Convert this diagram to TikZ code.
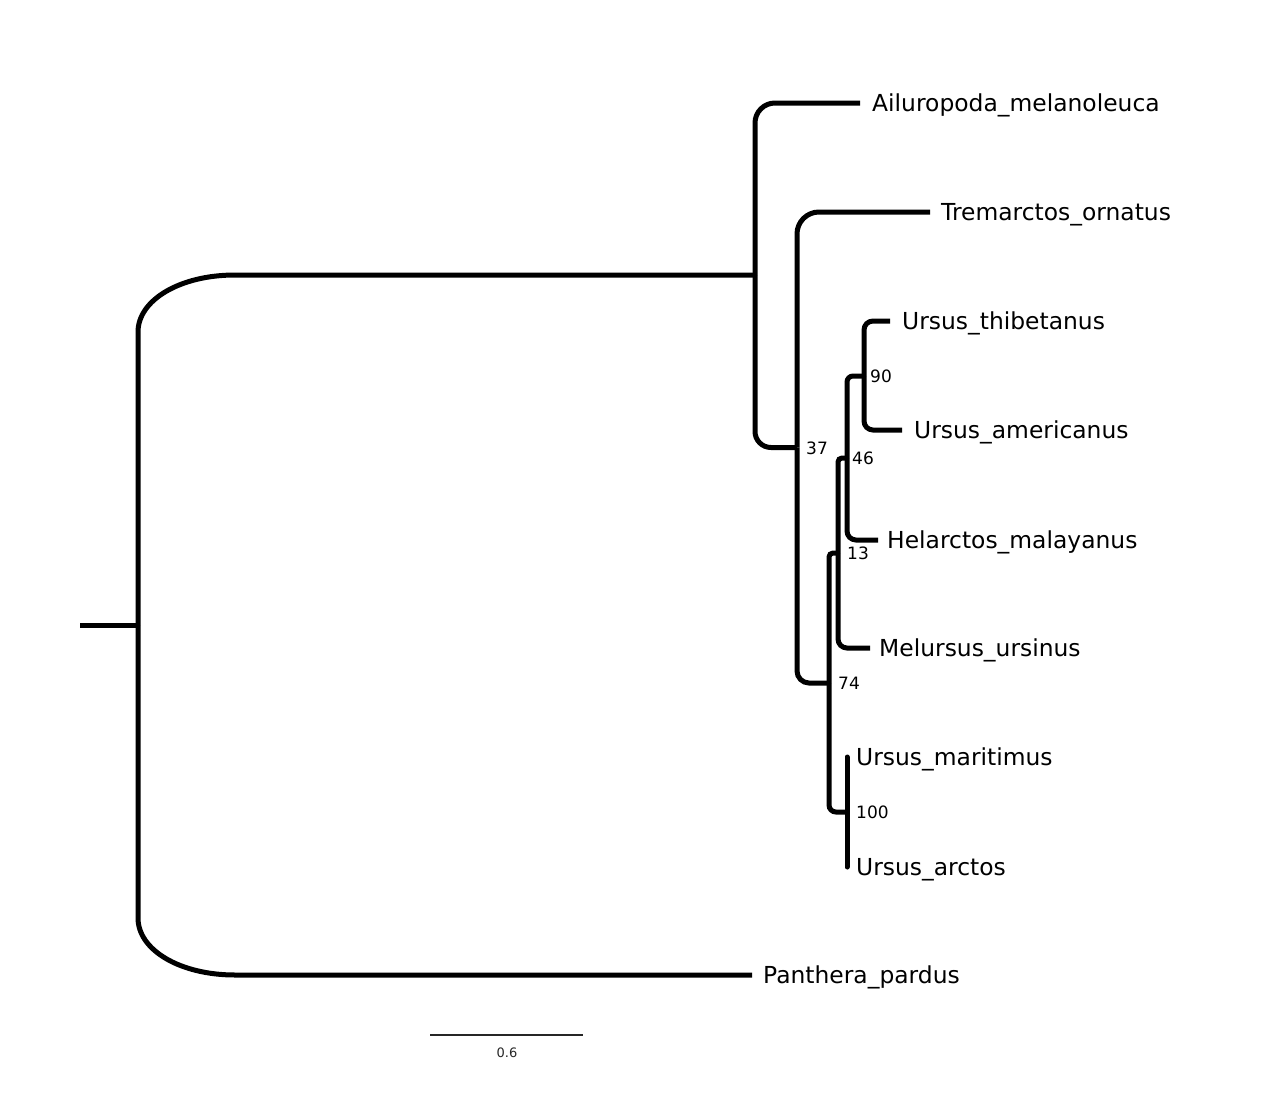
\documentclass[tikz,border=0pt]{standalone}
\usepackage{fontspec}
\setmainfont{DejaVu Sans}
\tikzset{
  branch/.style={line width=5pt, black},
  tiplabel/.style={anchor=base west, inner sep=0pt, font=\fontsize{23.4}{28}\selectfont},
  supportlabel/.style={anchor=base west, inner sep=0pt, font=\fontsize{17}{20}\selectfont},
  scalelabel/.style={anchor=base, inner sep=0pt, font=\fontsize{13}{16}\selectfont, black!85},
}
\begin{document}
\begin{tikzpicture}[x=1pt,y=-1pt]
\useasboundingbox (0,0) rectangle (1264,1100);
% internal nodes
\coordinate (stem) at (80,625);
\coordinate (root) at (138,625);
\coordinate (nA) at (755,275);
\coordinate (n37) at (797,447.5);
\coordinate (n74) at (829,683);
\coordinate (n13) at (838,553);
\coordinate (n46) at (847,458);
\coordinate (n90) at (864,376);
\coordinate (n100) at (847,812);
% leaf ends
\coordinate (Lail) at (860,103);
\coordinate (Ltre) at (930,212);
\coordinate (Lthi) at (890,321);
\coordinate (Lame) at (902,430);
\coordinate (Lhel) at (878,540);
\coordinate (Lmel) at (870,648);
\coordinate (Lmar) at (847,757);
\coordinate (Larc) at (847,867);
\coordinate (Lpan) at (752,975);
% root
\draw[branch] (stem) -- (root);
\draw[branch] (root) -- (138,332) .. controls (138,300) and (180,275) .. (235,275) -- (nA);
\draw[branch] (root) -- (138,918) .. controls (138,950) and (180,975) .. (235,975) -- (Lpan);
% clade A
\draw[branch, rounded corners=20pt] (nA) |- (Lail);
\draw[branch, rounded corners=16pt] (nA) |- (n37);
% node 37
\draw[branch, rounded corners=22pt] (n37) |- (Ltre);
\draw[branch, rounded corners=12pt] (n37) |- (n74);
% node 74
\draw[branch, rounded corners=4pt] (n74) |- (n13);
\draw[branch, rounded corners=7pt] (n74) |- (n100);
% node 13
\draw[branch, rounded corners=4pt] (n13) |- (n46);
\draw[branch, rounded corners=9pt] (n13) |- (Lmel);
% node 46
\draw[branch, rounded corners=6pt] (n46) |- (n90);
\draw[branch, rounded corners=9pt] (n46) |- (Lhel);
% node 90
\draw[branch, rounded corners=9pt] (n90) |- (Lthi);
\draw[branch, rounded corners=9pt] (n90) |- (Lame);
% node 100
\draw[branch, line cap=round] (n100) -- (Lmar);
\draw[branch, line cap=round] (n100) -- (Larc);
% tip labels
\node[tiplabel] (tail) at (872,111.5) {Ailuropoda\_melanoleuca};
\node[tiplabel] (ttre) at (941,220.5) {Tremarctos\_ornatus};
\node[tiplabel] (tthi) at (902,329.5) {Ursus\_thibetanus};
\node[tiplabel] (tame) at (914,438.5) {Ursus\_americanus};
\node[tiplabel] (thel) at (887,548.5) {Helarctos\_malayanus};
\node[tiplabel] (tmel) at (879,656.5) {Melursus\_ursinus};
\node[tiplabel] (tmar) at (856,765.5) {Ursus\_maritimus};
\node[tiplabel] (tarc) at (856,875.5) {Ursus\_arctos};
\node[tiplabel] (tpan) at (763,983.5) {Panthera\_pardus};
% support labels
\node[supportlabel] (s37) at (806,454) {37};
\node[supportlabel] (s90) at (870,382.5) {90};
\node[supportlabel] (s46) at (852,464.5) {46};
\node[supportlabel] (s13) at (847,559.5) {13};
\node[supportlabel] (s74) at (838,689.5) {74};
\node[supportlabel] (s100) at (856,818.5) {100};
% scale bar
\coordinate (sb1) at (430,1035);
\coordinate (sb2) at (583,1035);
\draw[line width=1.6pt, black!85] (sb1) -- (sb2);
\node[scalelabel] (sbl) at (507,1057) {0.6};
\end{tikzpicture}
\end{document}
